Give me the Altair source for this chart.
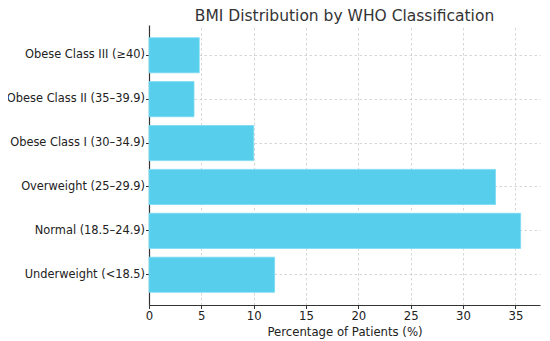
import altair as alt
import pandas as pd

categories = [
    "Underweight (<18.5)",
    "Normal (18.5–24.9)",
    "Overweight (25–29.9)",
    "Obese Class I (30–34.9)",
    "Obese Class II (35–39.9)",
    "Obese Class III (≥40)",
]
percentages = [12.0, 35.5, 33.1, 10.0, 4.3, 4.8]

df = pd.DataFrame({"category": categories, "pct": percentages})

FONT = "DejaVu Sans"

chart = (
    alt.Chart(df)
    .mark_bar(color="#57CFEC", stroke="#7ADAF1", strokeWidth=0.8)
    .encode(
        x=alt.X(
            "pct:Q",
            title="Percentage of Patients (%)",
            scale=alt.Scale(domain=[0, 37.35], nice=False, zero=True),
            axis=alt.Axis(values=[0, 5, 10, 15, 20, 25, 30, 35], format="d",
                          labelFlush=False),
        ),
        y=alt.Y(
            "category:N",
            title=None,
            sort=categories[::-1],
            scale=alt.Scale(paddingInner=0.2, paddingOuter=0.29),
        ),
    )
    .properties(
        width=391,
        height=280,
        title=alt.TitleParams(
            "BMI Distribution by WHO Classification",
            font=FONT,
            fontSize=15.5,
            fontWeight="normal",
            color="#333333",
            anchor="middle",
            frame="group",
            offset=1,
        ),
        autosize=alt.AutoSizeParams(type="none"),
        padding={"left": 141, "top": 17, "right": 2, "bottom": 36},
    )
    .configure_view(stroke=None)
    .configure_axis(
        labelFont=FONT,
        titleFont=FONT,
        labelFontSize=11.7,
        titleFontSize=11.7,
        titleFontWeight="normal",
        labelColor="#222222",
        titleColor="#222222",
        domainColor="#333333",
        domainWidth=1.2,
        tickColor="#333333",
        tickSize=3.5,
        tickWidth=1,
        labelPadding=2,
        grid=True,
        gridColor="#CCCCCC",
        gridDash=[2.5, 2.5],
        gridWidth=0.8,
    )
    .configure_axisX(titlePadding=4, labelPadding=2)
    .configure_axisY(labelPadding=1, labelFontSize=11.4)
)

chart.save("out.html", embed_options={"renderer": "svg", "actions": False})
